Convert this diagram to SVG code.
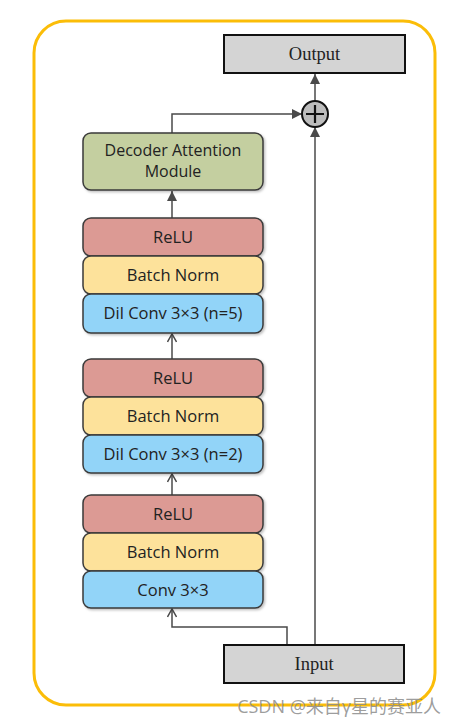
<svg xmlns="http://www.w3.org/2000/svg" width="457" height="725" viewBox="0 0 457 725">
<style>
.blk{stroke:#3a3a3a;stroke-width:1.5}
.relu{fill:#dc9a94}
.bn{fill:#fde29b}
.conv{fill:#92d4f8}
.dam{fill:#c4cfa0}
.io{fill:#d4d4d4;stroke:#111;stroke-width:2}
.lbl{font-family:"Segoe UI","Open Sans","DejaVu Sans",sans-serif;font-size:16.5px;fill:#222;text-anchor:middle}
.tlbl{font-family:"Liberation Serif",serif;font-size:18.5px;fill:#222;text-anchor:middle}
.ln{fill:none;stroke:#4a4a4a;stroke-width:1.5}
</style>
<defs>
<marker id="fa" viewBox="0 0 10 10" refX="10" refY="5" markerWidth="10" markerHeight="10" markerUnits="userSpaceOnUse" orient="auto">
<path d="M0,0 L10,5 L0,10 z" fill="#4a4a4a"/>
</marker>
<marker id="oa" viewBox="0 0 10 10" refX="9" refY="5" markerWidth="10" markerHeight="10" markerUnits="userSpaceOnUse" orient="auto">
<path d="M1,0.5 L9,5 L1,9.5" fill="none" stroke="#4a4a4a" stroke-width="1.5"/>
</marker>
<filter id="sh" x="-10%" y="-10%" width="125%" height="130%">
<feDropShadow dx="1.5" dy="1.5" stdDeviation="1" flood-color="#000" flood-opacity="0.25"/>
</filter>
</defs>
<rect x="0" y="0" width="457" height="725" fill="#fff"/>
<rect x="34" y="21" width="401" height="684" rx="32" fill="none" stroke="#fbbd08" stroke-width="3"/>

<g id="connectors">
<line class="ln" x1="315" y1="101" x2="315" y2="74" marker-end="url(#fa)"/>
<polyline class="ln" points="172,133 172,114 302,114" marker-end="url(#fa)"/>
<line class="ln" x1="315" y1="645" x2="315" y2="127" marker-end="url(#fa)"/>
<line class="ln" x1="172" y1="218" x2="172" y2="191" marker-end="url(#fa)"/>
<line class="ln" x1="172" y1="359" x2="172" y2="334" marker-end="url(#oa)"/>
<line class="ln" x1="172" y1="495" x2="172" y2="474" marker-end="url(#oa)"/>
<polyline class="ln" points="287,645 287,627 172,627 172,609" marker-end="url(#oa)"/>
</g>

<g id="output">
<rect class="io" x="224" y="35" width="181" height="38"/>
<text class="tlbl" x="314.5" y="60">Output</text>
</g>

<g id="add">
<circle cx="315" cy="114" r="13" fill="#bdbdbd" stroke="#111" stroke-width="2"/>
<path d="M306,114 H324 M315,105 V123" stroke="#111" stroke-width="2.2"/>
</g>

<g id="decoder">
<rect class="blk dam" x="83" y="133" width="180" height="57" rx="8" filter="url(#sh)"/>
<text class="lbl" x="173" y="156" style="font-size:16px">Decoder Attention</text>
<text class="lbl" x="173" y="177" style="font-size:16px">Module</text>
</g>

<g id="relu1">
<rect class="blk relu" x="83" y="218" width="180" height="38" rx="8" filter="url(#sh)"/>
<text class="lbl" x="173" y="243">ReLU</text>
</g>
<g id="bn1">
<rect class="blk bn" x="83" y="256" width="180" height="38" rx="8" filter="url(#sh)"/>
<text class="lbl" x="173" y="281">Batch Norm</text>
</g>
<g id="conv1">
<rect class="blk conv" x="83" y="294" width="180" height="39" rx="8" filter="url(#sh)"/>
<text class="lbl" x="173" y="319">Dil Conv 3×3 (n=5)</text>
</g>

<g id="relu2">
<rect class="blk relu" x="83" y="359" width="180" height="38" rx="8" filter="url(#sh)"/>
<text class="lbl" x="173" y="384">ReLU</text>
</g>
<g id="bn2">
<rect class="blk bn" x="83" y="397" width="180" height="38" rx="8" filter="url(#sh)"/>
<text class="lbl" x="173" y="422">Batch Norm</text>
</g>
<g id="conv2">
<rect class="blk conv" x="83" y="435" width="180" height="38" rx="8" filter="url(#sh)"/>
<text class="lbl" x="173" y="460">Dil Conv 3×3 (n=2)</text>
</g>

<g id="relu3">
<rect class="blk relu" x="83" y="495" width="180" height="38" rx="8" filter="url(#sh)"/>
<text class="lbl" x="173" y="520">ReLU</text>
</g>
<g id="bn3">
<rect class="blk bn" x="83" y="533" width="180" height="38" rx="8" filter="url(#sh)"/>
<text class="lbl" x="173" y="558">Batch Norm</text>
</g>
<g id="conv3">
<rect class="blk conv" x="83" y="571" width="180" height="37" rx="8" filter="url(#sh)"/>
<text class="lbl" x="173" y="596">Conv 3×3</text>
</g>

<g id="input">
<rect class="io" x="224" y="645" width="180" height="38"/>
<text class="tlbl" x="314" y="670">Input</text>
</g>

<text x="441" y="713" font-family="'Open Sans','Noto Sans CJK SC',sans-serif" font-size="18" fill="#8c8c8c" fill-opacity="0.85" text-anchor="end">CSDN @来自γ星的赛亚人</text>
</svg>
